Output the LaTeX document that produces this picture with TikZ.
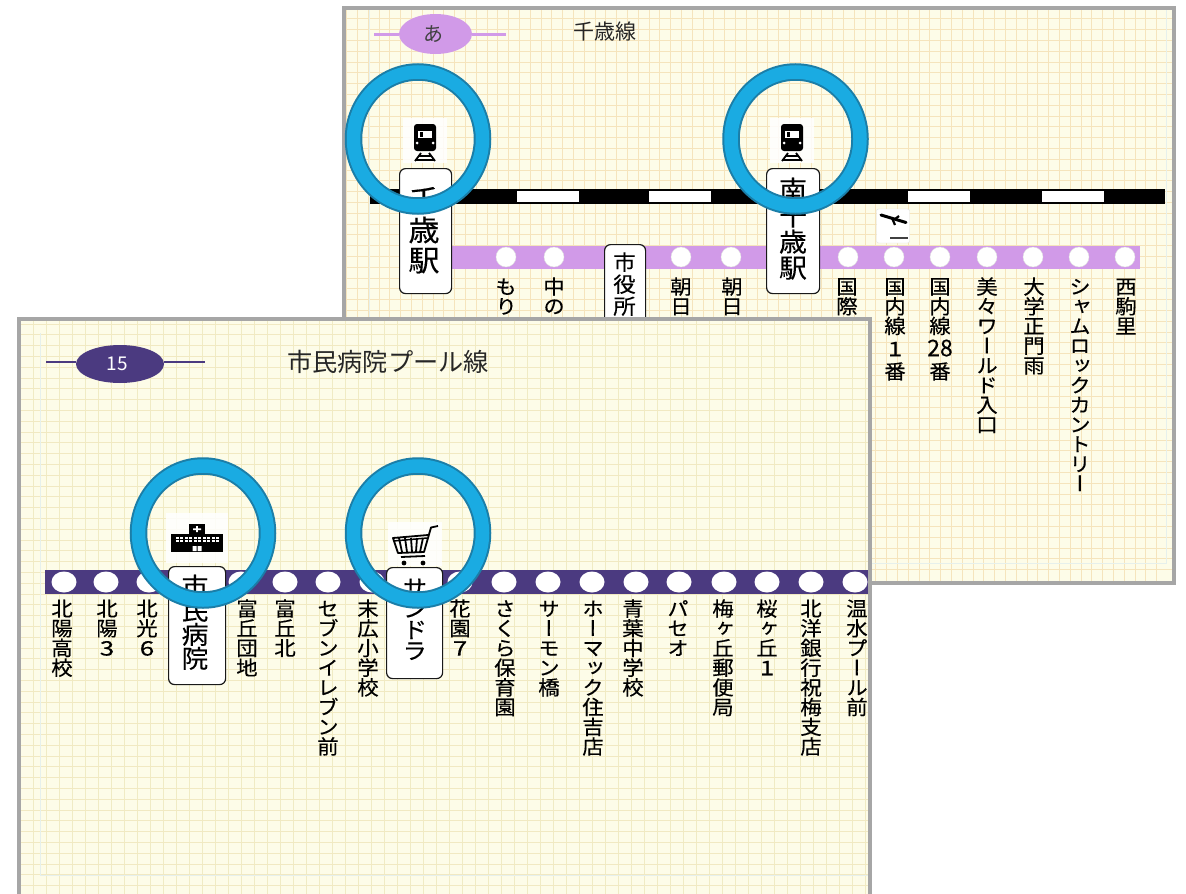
\documentclass[tikz,border=0pt]{standalone}
\usepackage{fontspec}
\usetikzlibrary{shapes.geometric}
\newfontfamily\jp{Noto Sans CJK JP}
\newfontfamily\jpb[FakeBold=.35]{Noto Sans CJK JP}
\newfontfamily\jpv[RawFeature=+vert,FakeBold=.35,FakeStretch=1.07]{Noto Sans CJK JP}
\newfontfamily\jpd[FakeBold=.35,FakeStretch=1.3]{Noto Sans CJK JP}
\newcommand{\dg}[1]{{\jpd #1}}
\definecolor{paper}{HTML}{FDFCE8}
\definecolor{gridb}{HTML}{F5E4BC}
\definecolor{gridf}{HTML}{F0EBC4}
\definecolor{margin}{HTML}{E6F0EC}
\definecolor{frame}{HTML}{A6A6A6}
\definecolor{lilac}{HTML}{D19AE8}
\definecolor{indigo}{HTML}{4B3A80}
\definecolor{ringblue}{HTML}{1AABE2}
\definecolor{ringdark}{HTML}{1B7EA8}
\tikzset{
  stn/.style={anchor=north, inner sep=0pt, text=black, font=\jpv\fontsize{20}{20}\selectfont},
  stnbox/.style={anchor=north west, draw=black!90, fill=white, line width=1.2pt, rounded corners=6pt, inner sep=0pt},
  dotb/.style={circle, fill=white, draw=black!12, inner sep=0pt, minimum size=20pt},
  dotf/.style={ellipse, fill=white, inner sep=0pt, minimum width=25pt, minimum height=21pt},
  ring/.style={ellipse, draw=ringdark, double=ringblue, double distance=13.5pt, line width=2pt,
    inner sep=0pt, outer sep=0pt, minimum width=129pt, minimum height=134pt},
  pill/.style={ellipse, inner sep=0pt, minimum width=#1, minimum height=40pt},
  iconbg/.style={fill=white, opacity=.85, draw=none}
}
\makeatletter
\newcommand{\tate}[2][19.7pt]{%
\vbox{\offinterlineskip\@tfor\tatec:=#2\do{%
  \hbox to 1.1em{\hss\smash{\tatec}\hss\vrule height .86\dimexpr#1\relax depth .14\dimexpr#1\relax width 0pt}}}}
\makeatother
\newcommand{\trainicon}[1]{%
\begin{scope}[#1]
\fill[iconbg] (-22,-21) rectangle (22,24);
\fill[black, rounded corners=3pt] (-11,-15) rectangle (11,12);
\fill[white] (-7,-8) rectangle (7,-1);
\fill[black] (-5.5,-7) rectangle (-2,-2);
\fill[white] (-8,4) circle (1.5) (8,4) circle (1.5);
\draw[line width=1.8pt] (-4,14) -- (-10,22) (4,14) -- (10,22) (-6,17) -- (6,17) (-9,21) -- (9,21);
\end{scope}}
\newcommand{\hospicon}[1]{%
\begin{scope}[#1]
\fill[iconbg] (-31,-22) rectangle (31,28);
\fill[black] (-26,-1) rectangle (26,17);
\fill[black] (-8,-11) rectangle (8,-1);
\fill[white] (-4,-6.6) rectangle (4,-5) (-0.8,-9) rectangle (0.8,-3);
\foreach \wx in {-21,-12,-3,6,15}{
  \fill[white] (\wx,2.2) rectangle +(3,1.8);
  \fill[white] (\wx+3.6,2.2) rectangle +(3,1.8);
  \fill[white] (\wx,5.4) rectangle +(3,1.8);
  \fill[white] (\wx+3.6,5.4) rectangle +(3,1.8);
}
\fill[white] (-4.5,11) rectangle (-0.5,16) (0.5,11) rectangle (4.5,16);
\end{scope}}
\newcommand{\carticon}[1]{%
\begin{scope}[#1]
\fill[iconbg] (388,522) rectangle (442,566);
\draw[line width=1.8pt, line join=round] (438,526) -- (431,527.5) -- (424,552) -- (398,553) -- (393,538) -- (428,535);
\draw[line width=1.5pt] (393.5,541) -- (427,538);
\foreach \sx/\tx in {399/402,405/407,411/412,417/416,423/420}{
  \draw[line width=1.8pt] (\sx,538) -- (\tx,552);
}
\draw[line width=1.8pt] (401,557) -- (425,556);
\fill (404,563) circle (2.4) (423,563) circle (2.4);
\end{scope}}
\begin{document}
\begin{tikzpicture}[x=1pt,y=-1pt]
\useasboundingbox (0,0) rectangle (1186,894);
% back sheet
\fill[paper] (344,8) rectangle (1174,583);
\foreach \gx in {0,...,75}{\draw[gridb, line width=.8pt] (346.5+10.8*\gx,10) -- (346.5+10.8*\gx,581);}
\foreach \gy in {1,...,52}{\draw[gridb, line width=.8pt] (346,7.9+10.8*\gy) -- (1172,7.9+10.8*\gy);}
\draw[margin, line width=.8pt] (369,10) -- (369,563) -- (1166,563) -- (1166,10);
\draw[frame, line width=3.5pt] (344,8) rectangle (1174,583);
\coordinate (al) at (374,34);
\coordinate (ar) at (506,34);
\node[pill=73pt, fill=lilac] (apill) at (435.5,34) {\jp\fontsize{20}{20}\selectfont\color{black!75}\kern-4pt あ};
\draw[lilac, line width=3pt] (al) -- (al -| apill.west) (ar -| apill.east) -- (ar);
\node[text=black!85, font=\jp\fontsize{21}{21}\selectfont] (atitle) at (605,32) {千歳線};
% jr line
\fill[black] (370,189) rectangle (1165,204);
\foreach \wx in {517,649,908,1042}{\fill[white] (\wx,191) rectangle +(62,11);}
% a line
\fill[lilac] (430,245.7) rectangle (1140,269.3);
\foreach \px in {506,554,681,731,848,894,940,987,1033,1079,1125}{
  \node[dotb] (ad\px) at (\px,257) {};
}
\foreach \px/\ptext in {506/もり,554/中の,681/朝日,732/朝日,847/国際,
  987/美々ワールド入口,1034/大学正門雨,1080/シャムロックカントリー,1126/西駒里}{
  \node[stn] (as\px) at (\px,277) {\expandafter\tate\expandafter{\ptext}};
}
\node[stn] (as895) at (895,277) {\tate{国内線{\raisebox{-3pt}{\dg{1}}}{\raisebox{-6pt}{番}}}};
\node[stn] (as940) at (940,277) {\tate{国内線{\raisebox{-3pt}{\jpb\fontsize{23}{23}\selectfont 28}}{\raisebox{-6pt}{番}}}};
\trainicon{shift={(425,139)}}
\trainicon{shift={(792,139)}}
\node[stnbox, minimum width=52pt, minimum height=125pt] (chitose) at (399,168) {};
\node[stn, font=\jpv\fontsize{29}{29}\selectfont] (chitosel) at (424,185) {\tate[30pt]{千歳駅}};
\node[stnbox, minimum width=41pt, minimum height=100pt] (shiyaku) at (604,244) {};
\node[stn, font=\jpv\fontsize{21}{21}\selectfont] (shiyakul) at (624.5,251) {\tate[22pt]{市役所}};
\node[stnbox, minimum width=53pt, minimum height=125pt] (minami) at (766,168) {};
\node[stn, font=\jpv\fontsize{26}{26}\selectfont] (minamil) at (793,177) {\tate[26pt]{南千歳駅}};
% airport mark
\node[draw=black!12, fill=white, rounded corners=2pt, minimum width=33pt, minimum height=34pt, inner sep=0pt] (plane) at (893,226) {};
\draw[line width=3pt, line cap=round] (881,215) -- (906,222.5);
\draw[line width=2.2pt] (892,218) -- (895,225) (895,219) -- (899,216);
\draw[line width=2pt, black!75] (890,238) -- (908,238);
\node[ring] (ringa) at (418,139) {};
\node[ring] (ringb) at (795.5,139) {};
% front sheet
\fill[paper] (19,319) rectangle (870,894);
\begin{scope}
\clip (19,319) rectangle (868.5,894);
\foreach \gx in {0,...,65}{\draw[gridf, line width=.8pt] (33.3+13*\gx,320) -- (33.3+13*\gx,894);}
\foreach \gy in {0,...,53}{\draw[gridf!70!gridb, line width=.8pt] (20,323.9+10.8*\gy) -- (870,323.9+10.8*\gy);}
\draw[margin, line width=.8pt] (40,333) -- (40,875) -- (868,875);
\coordinate (bl) at (46,362);
\coordinate (br) at (205,362);
\node[pill=88pt, minimum height=38pt, fill=indigo] (bpill) at (120,364) {\jp\fontsize{19}{19}\selectfont\color{white}\kern-6pt 15};
\draw[indigo, line width=2.5pt] (bl) -- (bl -| bpill.west) (br -| bpill.east) -- (br);
\node[text=black!85, font=\jp\fontsize{25.2}{26}\selectfont] (btitle) at (388,362) {市民病院プール線};
\fill[indigo] (45,570) rectangle (870,594);
\foreach \px in {64,106,149,241,285,328,372,460,504,548,592,636,679,724,767,811,855}{
  \node[dotf] (bd\px) at (\px,582) {};
}
\foreach \px/\ptext in {62/北陽高校,107/北陽{\dg{3}},147/北光{\dg{6}},247/富丘団地,285/富丘北,328/セブンイレブン前,368/末広小学校,460/花園{\dg{7}},
  505/さくら保育園,549/サーモン橋,593/ホーマック住吉店,633/青葉中学校,678/パセオ,723/梅ヶ丘郵便局,767/桜ヶ丘{\dg{1}},811/北洋銀行祝梅支店,857/温水プール前}{
  \node[stn] (bs\px) at (\px,599) {\expandafter\tate\expandafter{\ptext}};
}
\end{scope}
\draw[frame, line width=3.5pt] (870,894) -- (870,319) -- (19,319) -- (19,894);
\hospicon{shift={(197,535)}}
\carticon{}
\node[stnbox, minimum width=57pt, minimum height=118pt] (byoin) at (168,566) {};
\node[stn, font=\jpv\fontsize{25}{25}\selectfont] (byoinl) at (195,575) {\tate[24pt]{市民病院}};
\node[stnbox, minimum width=56pt, minimum height=111pt] (sandra) at (386,567) {};
\node[stn, font=\jpv\fontsize{23}{23}\selectfont] (sandral) at (415,578) {\tate[21pt]{サンドラ}};
\node[ring] (ringc) at (203,533) {};
\node[ring] (ringd) at (418,533) {};
\end{tikzpicture}
\end{document}
